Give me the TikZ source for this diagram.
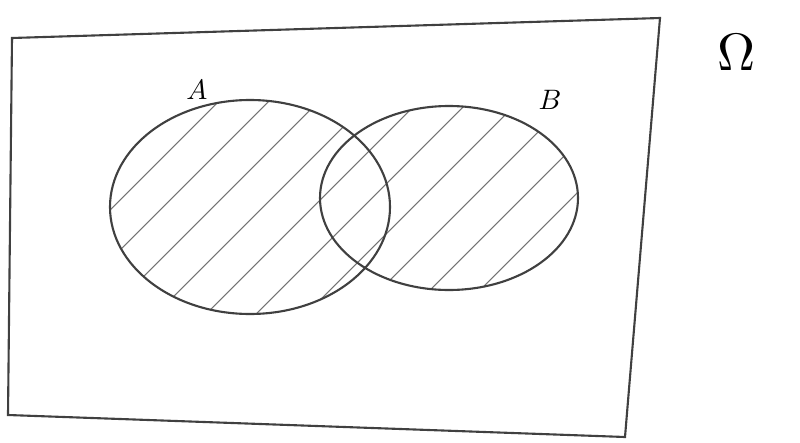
\documentclass[tikz,border=0pt]{standalone}
\begin{document}
\begin{tikzpicture}[x=0.03cm, y=-0.03cm]
    % 边界
    \useasboundingbox (0,0) rectangle (800,443);

    % 样本空间 Omega
    \draw[line width=1.8pt, black!75] (12,38) -- (660,18) -- (625,437) -- (8,415) -- cycle;
    \node[scale=4.5] (omega) at (737,52) {$\Omega$};

    % 定义集合 A, B 的中心
    \coordinate (A) at (250,207);
    \coordinate (B) at (449,198);

    % 阴影部分 A 并 B
    \begin{scope}
        \clip (A) ellipse [x radius=140, y radius=107] (B) ellipse [x radius=129, y radius=92];
        \foreach \s in {-60,-10,...,740}
            \draw[line width=0.9pt, black!55] (\s,330) -- (\s+260,70);
    \end{scope}

    % 绘制集合 A, B
    \draw[line width=1.8pt, black!75] (A) ellipse [x radius=140, y radius=107];
    \draw[line width=1.8pt, black!75] (B) ellipse [x radius=129, y radius=92];

    % 标注集合
    \node[scale=2.4] (labA) at (197,90) {$A$};
    \node[scale=2.4] (labB) at (550,100) {$B$};
\end{tikzpicture}
\end{document}
